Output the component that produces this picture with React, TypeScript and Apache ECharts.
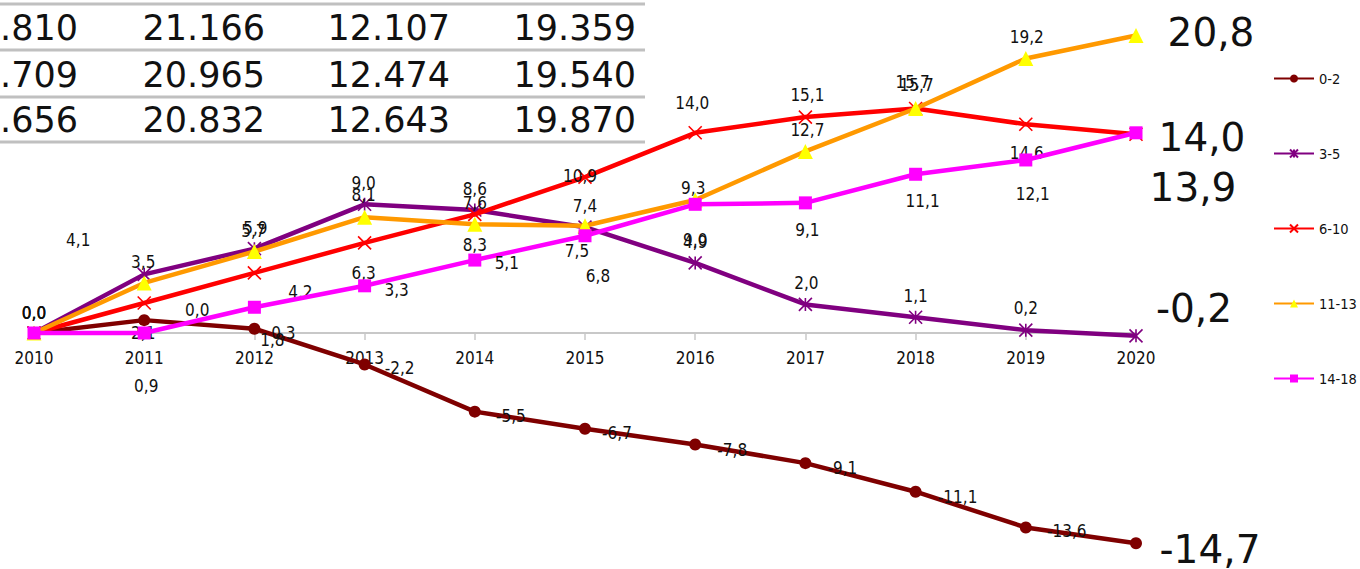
import React, { useEffect, useRef } from "react";
import * as echarts from "echarts";

// ---- data ----
const years = ["2010", "2011", "2012", "2013", "2014", "2015", "2016", "2017", "2018", "2019", "2020"];
const seriesNames = ["0-2", "3-5", "6-10", "11-13", "14-18"];
const s02 = [0, 0.9, 0.3, -2.2, -5.5, -6.7, -7.8, -9.1, -11.1, -13.6, -14.7];
const s35 = [0, 4.1, 5.9, 9.0, 8.6, 7.4, 4.9, 2.0, 1.1, 0.2, -0.2];
const s610 = [0, 2.1, 4.2, 6.3, 8.3, 10.9, 14.0, 15.1, 15.7, 14.6, 13.9];
const s1113 = [0, 3.5, 5.7, 8.1, 7.6, 7.5, 9.3, 12.7, 15.7, 19.2, 20.8];
const s1418 = [0, 0.0, 1.8, 3.3, 5.1, 6.8, 9.0, 9.1, 11.1, 12.1, 14.0];
const tableRows = [
  [".810", "21.166", "12.107", "19.359"],
  [".709", "20.965", "12.474", "19.540"],
  [".656", "20.832", "12.643", "19.870"],
];

// ---- styles (label placement offsets, per point; null = hidden) ----
const labelOffsets: (number[] | null)[][] = [
  [[0, -20], [2, 66], [29, 4], [35, 4], [36, 4], [32, 4], [37, 5], [37, 5], [42, 5], [41, 4], [74, 6]],
  [[0, -20], [-66, -34], [1, -21], [-1, -21], [0, -21], [0, -21], [0, -21], [1, -21], [0, -21], [0, -22], [58, -27]],
  [null, [-1, 30], [46, 19], [-1, 30], [0, 31], [-5, -1], [-3, -30], [2, -22], [-3, -26], [1, 29], [57, 53]],
  [[0, -20], [-1, -21], [-1, -20], [-1, -22], [0, -21], [-8, 25], [-2, -12], [2, -21], [1, -23], [1, -21], [75, -3]],
  [null, [53, -23], [18, 33], [32, 4], [32, 3], [13, 40], [0, 36], [2, 27], [7, 27], [7, 34], [66, 5]],
];
const lineColors = ["#7f0000", "#800080", "#ff0000", "#ff9900", "#ff00ff"];
const markerColors = ["#7f0000", "#800080", "#ff0000", "#ffff00", "#ff00ff"];
const symbols = [
  "circle",
  "path://M0,0L10,10M10,0L0,10M5,0L5,10",
  "path://M0,0L10,10M10,0L0,10",
  "triangle",
  "rect",
];
const symbolSizes = [12, 13, 13, 15, 13];
const COND = "'DejaVu Sans Condensed', 'DejaVu Sans', sans-serif";
const SANS = "'DejaVu Sans', sans-serif";

const fmt = (v: number) => v.toFixed(1).replace(".", ",");

const Y_MIN = -16;
const Y_MAX = 22;
const GRID_TOP = 18.4;
const GRID_BOTTOM = 7.2;
const HEIGHT = 569;

export default function App() {
  const ref = useRef<HTMLDivElement>(null);
  useEffect(() => {
    if (!ref.current) return;
    const chart = echarts.init(ref.current, undefined, { renderer: "svg" });
    const allData = [s02, s35, s610, s1113, s1418];

    const plotH = HEIGHT - GRID_TOP - GRID_BOTTOM;
    // distance from the grid's bottom edge up to the zero line
    const zeroFromBottom = (plotH * (0 - Y_MIN)) / (Y_MAX - Y_MIN);

    const series = allData.map((vals, si) => ({
      name: seriesNames[si],
      type: "line",
      symbol: symbols[si],
      symbolSize: symbolSizes[si],
      lineStyle: { color: lineColors[si], width: 4.5 },
      itemStyle:
        si === 1 || si === 2
          ? { color: markerColors[si], borderColor: markerColors[si], borderWidth: 1.6 }
          : { color: markerColors[si], borderWidth: 0 },
      z: 2 + si,
      data: vals.map((v, i) => {
        const off = labelOffsets[si][i];
        const last = i === vals.length - 1;
        return {
          value: v,
          label: off
            ? {
                show: true,
                position: "inside",
                offset: off,
                formatter: () => fmt(v),
                color: "#111",
                fontFamily: last ? SANS : COND,
                fontSize: last ? 39 : 17,
              }
            : { show: false },
        };
      }),
    }));

    const colRight = [78, 265, 450, 636];
    const rowY = [28, 75, 120];
    const lineY = [4, 50, 97, 142];
    const graphic: any[] = [];
    lineY.forEach((y) =>
      graphic.push({
        type: "line",
        shape: { x1: 0, y1: y, x2: 645, y2: y },
        style: { stroke: "#c0c0c0", lineWidth: 3 },
      })
    );
    tableRows.forEach((row, ri) =>
      row.forEach((cell, ci) =>
        graphic.push({
          type: "text",
          x: colRight[ci],
          y: rowY[ri],
          style: {
            text: cell,
            fill: "#111",
            font: `35px ${SANS}`,
            textAlign: "right",
            textVerticalAlign: "middle",
          },
        })
      )
    );

    chart.setOption({
      animation: false,
      backgroundColor: "#ffffff",
      grid: {
        left: 34,
        right: 224,
        top: GRID_TOP,
        bottom: GRID_BOTTOM,
        containLabel: false,
        outerBoundsMode: "none",
      },
      legend: {
        data: seriesNames,
        orient: "vertical",
        left: 1273,
        top: 71,
        padding: 0,
        itemWidth: 40,
        itemHeight: 10,
        itemGap: 60,
        textStyle: { fontSize: 14.5, fontFamily: COND, color: "#111" },
      },
      xAxis: {
        type: "category",
        data: years,
        boundaryGap: false,
        offset: -zeroFromBottom,
        axisLine: { onZero: false, lineStyle: { color: "#c8c8c8", width: 2 } },
        axisTick: { show: true, length: 7, lineStyle: { color: "#c8c8c8", width: 1.5 } },
        axisLabel: { fontSize: 17, fontFamily: COND, color: "#111", margin: 16 },
        splitLine: { show: false },
      },
      yAxis: {
        type: "value",
        min: Y_MIN,
        max: Y_MAX,
        show: false,
        splitLine: { show: false },
      },
      series,
      graphic,
    });
    return () => chart.dispose();
  }, []);
  return (
    <div
      ref={ref}
      style={{ position: "fixed", left: 0, top: 0, width: 1360, height: HEIGHT, background: "#fff" }}
    />
  );
}
